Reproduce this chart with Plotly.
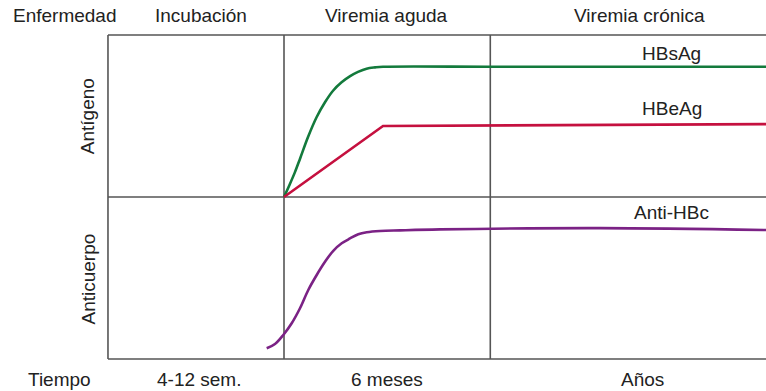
import plotly.graph_objects as go

# Chart coordinates: time axis 0..100 (arbitrary), level axis 0..100
phase_bounds = [0, 26.75, 58.1, 100]
mid_level = 50

hbsag_x = [26.75, 27.6, 28.4, 29.2, 30.4, 31.7, 33.0, 34.2, 35.5, 36.8, 38.0, 39.3, 40.6, 41.8, 60, 100]
hbsag_y = [50.0, 53.8, 57.6, 61.9, 68.5, 74.6, 79.3, 82.8, 85.4, 87.3, 88.6, 89.6, 90.0, 90.2, 90.2, 90.2]

hbeag_x = [26.75, 41.8, 100]
hbeag_y = [50.0, 71.9, 72.5]

antihbc_x = [24.12, 25.38, 26.64, 27.92, 29.18, 30.44, 31.72, 32.98, 34.24, 35.52, 36.78,
             38.04, 39.32, 41.34, 44.38, 50.46, 74.8, 100]
antihbc_y = [3.3, 4.63, 7.41, 11.02, 15.65, 21.3, 25.93, 30.0, 33.4, 35.7, 37.2,
             38.5, 39.1, 39.5, 39.7, 40.0, 40.4, 39.8]

top_labels = ["Enfermedad", "Incubación", "Viremia aguda", "Viremia crónica"]
top_label_x = [-6.5, 14.1, 42.3, 80.7]
bottom_labels = ["Tiempo", "4-12 sem.", "6 meses", "Años"]
bottom_label_x = [-7.3, 13.8, 42.4, 81.2]
series_names = ["HBsAg", "HBeAg", "Anti-HBc"]
series_label_y = [94.4, 77.2, 45.1]
axis_labels = ["Antígeno", "Anticuerpo"]
axis_label_y = [75.0, 24.6]

GREEN = "#137a3c"
RED = "#c5103f"
PURPLE = "#7b2285"
FRAME = "#555555"
TEXT = "#222222"
FONT = "Liberation Sans, Arial, Helvetica, sans-serif"
FS = 19

fig = go.Figure()
for xs, ys, c in [(hbsag_x, hbsag_y, GREEN), (hbeag_x, hbeag_y, RED), (antihbc_x, antihbc_y, PURPLE)]:
    fig.add_trace(go.Scatter(x=xs, y=ys, mode="lines",
                             line=dict(color=c, width=2.6, shape="spline" if c != RED else "linear",
                                       smoothing=1.0),
                             hoverinfo="skip", showlegend=False))

shapes = []
for yv in [0, 100, mid_level]:
    shapes.append(dict(type="line", x0=0, x1=100, y0=yv, y1=yv, line=dict(color=FRAME, width=1.6), layer="below"))
for xv in phase_bounds[:-1]:
    shapes.append(dict(type="line", x0=xv, x1=xv, y0=0, y1=100, line=dict(color=FRAME, width=1.6), layer="below"))

ann = []
for t, x in zip(top_labels, top_label_x):
    ann.append(dict(x=x, y=105.9, text=t, showarrow=False, xanchor="center", yanchor="middle"))
for t, x in zip(bottom_labels, bottom_label_x):
    ann.append(dict(x=x, y=-6.2, text=t, showarrow=False, xanchor="center", yanchor="middle"))
for t, y in zip(series_names, series_label_y):
    ann.append(dict(x=85.7, y=y, text=t, showarrow=False, xanchor="center", yanchor="middle"))
for t, y in zip(axis_labels, axis_label_y):
    ann.append(dict(x=-3.0, y=y, text=t, showarrow=False, textangle=-90, xanchor="center", yanchor="middle"))

fig.update_layout(
    width=766, height=391,
    margin=dict(l=0, r=0, t=0, b=0),
    paper_bgcolor="white", plot_bgcolor="white",
    font=dict(family=FONT, size=FS, color=TEXT),
    xaxis=dict(range=[-16.41, 100], visible=False, fixedrange=True),
    yaxis=dict(range=[-9.88, 110.8], visible=False, fixedrange=True),
    shapes=shapes, annotations=ann,
)
fig.write_html("out.html", config={"displayModeBar": False},
               post_script="document.body.style.margin='0';document.body.style.overflow='hidden';")
